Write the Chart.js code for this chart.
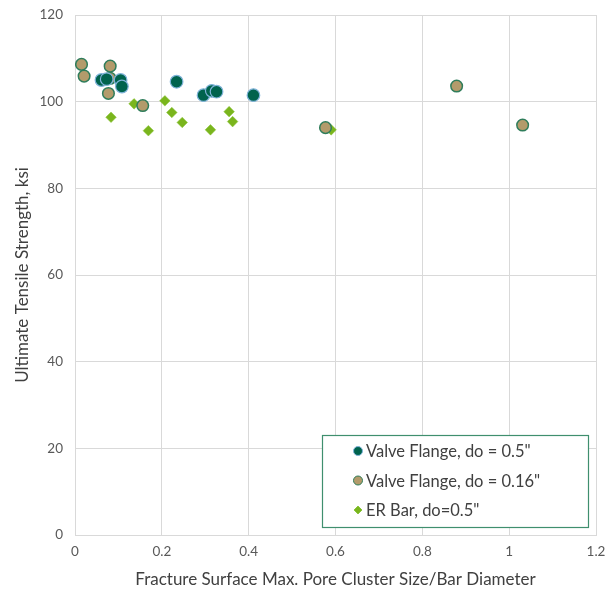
<!DOCTYPE html>
<html>
<head>
<meta charset="utf-8">
<script src="https://cdn.jsdelivr.net/npm/chart.js@4.4.1/dist/chart.umd.min.js"></script>
<style>
  html, body { margin: 0; padding: 0; background: #fff; }
  #wrap { width: 610px; height: 590px; }
</style>
</head>
<body>
<div id="wrap"><canvas id="c" width="610" height="590"></canvas></div>
<script>
// values
const flange05X = [0.061, 0.073, 0.105, 0.108, 0.234, 0.296, 0.315, 0.326, 0.411];
const flange05Y = [105.0, 105.2, 105.0, 103.5, 104.6, 101.5, 102.5, 102.3, 101.5];

const flange016X = [0.015, 0.021, 0.081, 0.081, 0.077, 0.156, 0.577, 0.879, 1.031];
const flange016Y = [108.6, 105.9, 108.2, 105.4, 101.9, 99.1, 94.0, 103.6, 94.6];

const erBarX = [0.083, 0.136, 0.169, 0.207, 0.223, 0.247, 0.312, 0.355, 0.363, 0.590];
const erBarY = [96.4, 99.5, 93.3, 100.2, 97.5, 95.2, 93.5, 97.7, 95.4, 93.5];

const seriesNames = ['Valve Flange, do = 0.5"', 'Valve Flange, do = 0.16"', 'ER Bar, do=0.5"'];
const xTicks = [0, 0.2, 0.4, 0.6, 0.8, 1, 1.2];
const yTicks = [0, 20, 40, 60, 80, 100, 120];

function toPoints(xs, ys) {
  return xs.map((x, i) => ({ x: x, y: ys[i] }));
}

const FONT = 'Lato, "Open Sans", sans-serif';

// legend box drawn inside the plot area, bottom right
const boxLegend = {
  id: 'boxLegend',
  afterDraw(chart) {
    const ctx = chart.ctx;
    const left = 322, top = 435, w = 266, h = 92;
    ctx.save();
    ctx.fillStyle = '#ffffff';
    ctx.fillRect(left, top, w, h);
    ctx.strokeStyle = '#3f8f6e';
    ctx.lineWidth = 1.2;
    ctx.strokeRect(left + 0.5, top + 0.5, w, h);
    ctx.font = '16.5px ' + FONT;
    ctx.textBaseline = 'middle';
    chart.data.datasets.forEach((ds, i) => {
      const cy = top + 16 + i * 29.5;
      const cx = left + 36;
      ctx.beginPath();
      if (ds.pointStyle === 'rectRot') {
        ctx.moveTo(cx, cy - 4); ctx.lineTo(cx + 4, cy); ctx.lineTo(cx, cy + 4); ctx.lineTo(cx - 4, cy);
        ctx.closePath();
      } else {
        ctx.arc(cx, cy, 4.5, 0, Math.PI * 2);
      }
      ctx.fillStyle = ds.backgroundColor;
      ctx.fill();
      ctx.strokeStyle = ds.borderColor;
      ctx.lineWidth = 1;
      ctx.stroke();
      ctx.fillStyle = '#404040';
      ctx.fillText(ds.label, cx + 8, cy + 1);
    });
    ctx.restore();
  }
};

new Chart(document.getElementById('c'), {
  type: 'scatter',
  data: {
    datasets: [
      {
        label: seriesNames[0],
        data: toPoints(flange05X, flange05Y),
        backgroundColor: '#00634d',
        borderColor: '#7fb3d9',
        borderWidth: 1.2,
        pointRadius: 6.3,
        pointStyle: 'circle'
      },
      {
        label: seriesNames[1],
        data: toPoints(flange016X, flange016Y),
        backgroundColor: '#b39b6b',
        borderColor: '#2f7d5b',
        borderWidth: 1.5,
        pointRadius: 5.8,
        pointStyle: 'circle'
      },
      {
        label: seriesNames[2],
        data: toPoints(erBarX, erBarY),
        backgroundColor: '#7ab51d',
        borderColor: '#8cc63f',
        borderWidth: 0.5,
        pointRadius: 5.3,
        pointStyle: 'rectRot'
      }
    ]
  },
  options: {
    responsive: false,
    animation: false,
    layout: { padding: { left: 0, right: 14, top: 15, bottom: 0 } },
    plugins: {
      legend: { display: false },
      tooltip: { enabled: false }
    },
    scales: {
      x: {
        type: 'linear',
        min: 0,
        max: 1.2,
        afterBuildTicks(axis) { axis.ticks = xTicks.map(v => ({ value: v })); },
        afterFit(axis) {
          axis.height = 55;
          axis.paddingLeft = 0;
          axis.paddingRight = 0;
        },
        grid: { color: '#d9d9d9', drawTicks: false },
        border: { color: '#d9d9d9' },
        ticks: {
          color: '#595959',
          font: { family: FONT, size: 13.5 },
          padding: 9,
          callback: v => String(v)
        },
        title: {
          display: true,
          text: 'Fracture Surface Max. Pore Cluster Size/Bar Diameter',
          color: '#404040',
          font: { family: FONT, size: 17 },
          padding: { top: 2, bottom: 0 }
        }
      },
      y: {
        type: 'linear',
        min: 0,
        max: 120,
        afterBuildTicks(axis) { axis.ticks = yTicks.map(v => ({ value: v })); },
        afterFit(axis) {
          axis.width = 75;
          axis.paddingTop = 0;
          axis.paddingBottom = 0;
        },
        grid: { color: '#d9d9d9', drawTicks: false },
        border: { color: '#d9d9d9' },
        ticks: {
          color: '#595959',
          font: { family: FONT, size: 13.5 },
          padding: 12
        },
        title: {
          display: true,
          text: 'Ultimate Tensile Strength, ksi',
          color: '#404040',
          font: { family: FONT, size: 17 },
          padding: { top: 12, bottom: 10 }
        }
      }
    }
  },
  plugins: [boxLegend]
});
</script>
</body>
</html>
